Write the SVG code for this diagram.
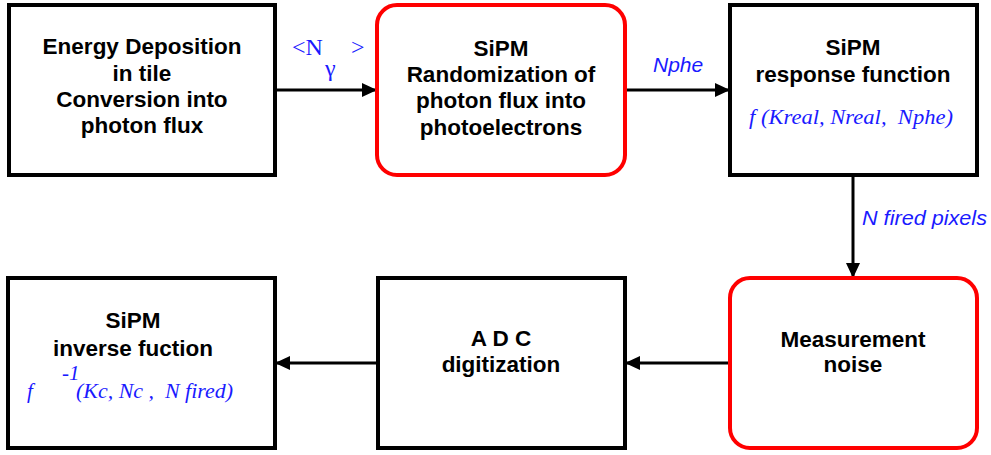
<svg xmlns="http://www.w3.org/2000/svg" width="991" height="455" viewBox="0 0 991 455">
<defs>
<style>
.box{fill:#fff;stroke:#000;stroke-width:4}
.rbox{fill:#fff;stroke:#ff0000;stroke-width:4}
.t{font-family:"Liberation Sans",Arial,sans-serif;font-weight:bold;font-size:22.5px;fill:#000;text-anchor:middle}
.bi{font-family:"Liberation Serif","Times New Roman",serif;font-style:italic;font-size:21px;fill:#1a1aff}
.bs{font-family:"Liberation Sans",Arial,sans-serif;font-style:italic;font-size:21px;fill:#1a1aff}
.br{font-family:"Liberation Serif","Times New Roman",serif;font-size:24px;fill:#1a1aff}
.c{stroke:#000;stroke-width:3;fill:none;marker-end:url(#ah)}
</style>
<marker id="ah" markerUnits="userSpaceOnUse" markerWidth="16" markerHeight="14" refX="15" refY="7" orient="auto">
<path d="M0,0 L15,7 L0,14 z" fill="#000"/>
</marker>
</defs>
<rect width="991" height="455" fill="#fff"/>
<g id="connectors">
<line class="c" x1="275" y1="90" x2="377" y2="90"/>
<line class="c" x1="625" y1="90" x2="730" y2="90"/>
<line class="c" x1="853" y1="175" x2="853" y2="278"/>
<line class="c" x1="730" y1="363" x2="625" y2="363"/>
<line class="c" x1="378" y1="363" x2="275" y2="363"/>
<text class="br" x="292" y="55">&lt;N</text>
<text class="br" x="325" y="76" font-size="27">γ</text>
<text class="br" x="351" y="55">&gt;</text>
<text class="bs" x="653" y="72">Nphe</text>
<text class="bs" x="862" y="225" textLength="125" lengthAdjust="spacingAndGlyphs">N fired pixels</text>
</g>
<g id="energy">
<rect class="box" x="9" y="5" width="266" height="170"/>
<text class="t" x="142" y="54">Energy Deposition</text>
<text class="t" x="142" y="81">in tile</text>
<text class="t" x="142" y="107">Conversion into</text>
<text class="t" x="142" y="133">photon flux</text>
</g>
<g id="randomization">
<rect class="rbox" x="377" y="5" width="248" height="170" rx="20"/>
<text class="t" x="501" y="56">SiPM</text>
<text class="t" x="501" y="82">Randomization of</text>
<text class="t" x="501" y="108">photon flux into</text>
<text class="t" x="501" y="135">photoelectrons</text>
</g>
<g id="response">
<rect class="box" x="730" y="5" width="247" height="170"/>
<text class="t" x="853" y="55">SiPM</text>
<text class="t" x="853" y="82">response function</text>
<text class="bi" x="749" y="124" textLength="204" lengthAdjust="spacingAndGlyphs" xml:space="preserve">f (Kreal, Nreal,  Nphe)</text>
</g>
<g id="noise">
<rect class="rbox" x="730" y="278" width="247" height="170" rx="20"/>
<text class="t" x="853" y="347">Measurement</text>
<text class="t" x="853" y="372">noise</text>
</g>
<g id="adc">
<rect class="box" x="378" y="278" width="247" height="170"/>
<text class="t" x="501" y="346">A D C</text>
<text class="t" x="501" y="372">digitization</text>
</g>
<g id="inverse">
<rect class="box" x="8" y="278" width="267" height="170"/>
<text class="t" x="133" y="328">SiPM</text>
<text class="t" x="133" y="356">inverse fuction</text>
<text class="bi" x="27" y="398">f</text>
<text class="bi" x="62" y="380" font-size="20">-1</text>
<text class="bi" x="76" y="398" textLength="157" lengthAdjust="spacingAndGlyphs" xml:space="preserve">(Kc, Nc ,  N fired)</text>
</g>
</svg>
